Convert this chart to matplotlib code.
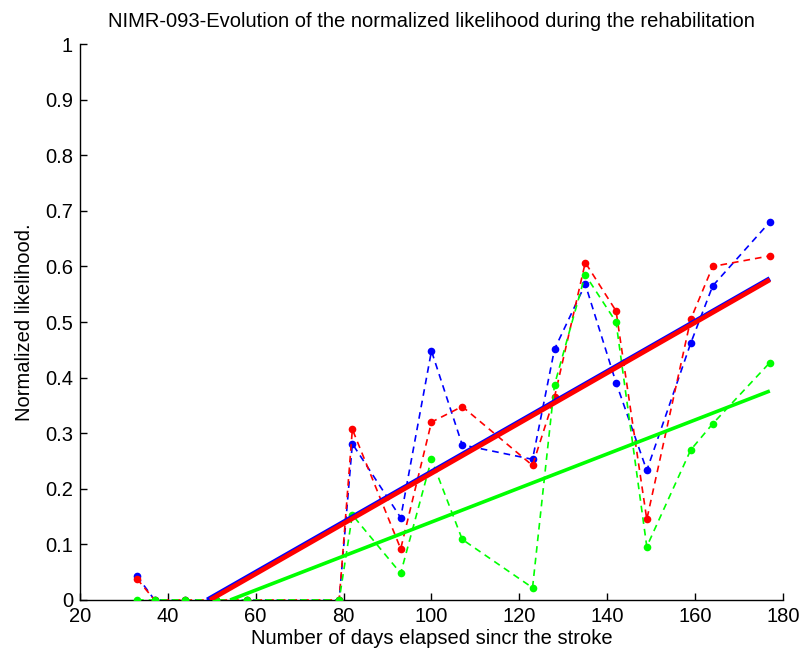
#!/usr/bin/env python3
import matplotlib
matplotlib.use("Agg")
import matplotlib.pyplot as plt

# days since stroke at each session
days = [33, 37, 44, 51, 58, 79, 82, 93, 100, 107, 123, 128, 135, 142, 149, 159, 164, 177]

blue_vals = [0.043, 0, 0, 0, 0, 0, 0.281, 0.148, 0.448, 0.279, 0.253, 0.451,
             0.568, 0.391, 0.233, 0.462, 0.565, 0.680]
red_vals = [0.038, 0, 0, 0, 0, 0, 0.307, 0.092, 0.320, 0.348, 0.242, 0.365,
            0.607, 0.520, 0.145, 0.505, 0.600, 0.619]
green_vals = [0, 0, 0, 0, 0, 0, 0.153, 0.048, 0.253, 0.109, 0.022, 0.387,
              0.585, 0.500, 0.096, 0.270, 0.317, 0.427]

# linear trend lines (start/end)
blue_fit_x = [49.0, 177]
blue_fit_y = [0.0, 0.578]
red_fit_x = [49.6, 177]
red_fit_y = [0.0, 0.576]
green_fit_x = [54.2, 177]
green_fit_y = [0.0, 0.376]

x_ticks = [20, 40, 60, 80, 100, 120, 140, 160, 180]
y_ticks = [0, 0.1, 0.2, 0.3, 0.4, 0.5, 0.6, 0.7, 0.8, 0.9, 1]
y_ticklabels = ["0", "0.1", "0.2", "0.3", "0.4", "0.5", "0.6", "0.7", "0.8", "0.9", "1"]

plt.rcParams["font.family"] = ["Liberation Sans", "DejaVu Sans"]

fig = plt.figure(figsize=(7.99, 6.54), dpi=100)
ax = fig.add_axes([0.100, 0.0826, 0.880, 0.850])

dash = (0, (4, 3))
for vals, col in [(blue_vals, (0, 0, 1)), (red_vals, (1, 0, 0)), (green_vals, (0, 1, 0))]:
    ax.plot(days, vals, color=col, linestyle=dash, linewidth=1.2,
            marker="o", markersize=5.5, markeredgewidth=0, zorder=3)

ax.plot(blue_fit_x, blue_fit_y, color=(0, 0, 1), linewidth=3.6, zorder=4,
        solid_capstyle="butt")
ax.plot(red_fit_x, red_fit_y, color=(1, 0, 0), linewidth=3.4, zorder=4,
        solid_capstyle="butt")
ax.plot(green_fit_x, green_fit_y, color=(0, 1, 0), linewidth=2.6, zorder=4,
        solid_capstyle="butt")

ax.set_xlim(20, 180)
ax.set_ylim(0, 1)
ax.set_xticks(x_ticks)
ax.set_yticks(y_ticks)
ax.set_yticklabels(y_ticklabels)
ax.tick_params(direction="in", length=5, width=1, labelsize=14.5, pad=5)

ax.spines["top"].set_visible(False)
ax.spines["right"].set_visible(False)
ax.spines["left"].set_linewidth(1.0)
ax.spines["bottom"].set_linewidth(1.0)

ax.set_title("NIMR-093-Evolution of the normalized likelihood during the rehabilitation",
             fontsize=14.5, pad=12)
ax.set_xlabel("Number of days elapsed sincr the stroke", fontsize=14.5, labelpad=2)
ax.set_ylabel("Normalized likelihood.", fontsize=14.5, labelpad=8)

fig.savefig("out.png", dpi=100)
